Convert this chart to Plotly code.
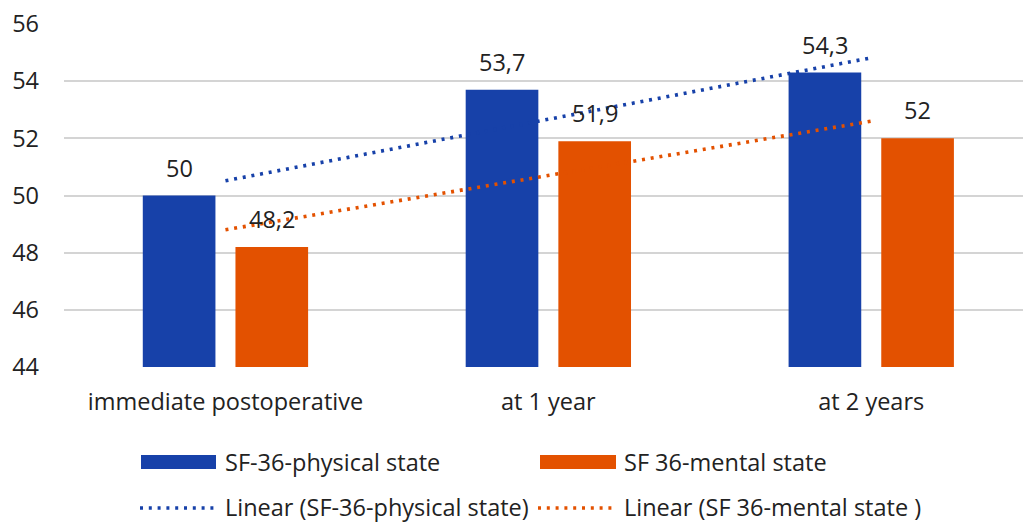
import numpy as np
import plotly.graph_objects as go

# Chart data
categories = ["immediate postoperative", "at 1 year", "at 2 years"]
physical = [50, 53.7, 54.3]
mental = [48.2, 51.9, 52]
series_names = ["SF-36-physical state", "SF 36-mental state"]
trend_names = ["Linear (SF-36-physical state)", "Linear (SF 36-mental state )"]

BLUE = "#1741A9"
ORANGE = "#E35100"
FONT = "Open Sans"
FS = 23.5
TEXT = "#222222"

W, H = 1023, 524
L, R, T, B = 64, 0, 24, 157
PW, PH = W - L - R, H - T - B

xpos = np.arange(len(categories))
BAR_W = 0.225
OFFSETS = [-0.256, 0.031]
DOTS = "3px,5.8px"


def fmt(v):
    return f"{v:g}".replace(".", ",")


def px_x(px):
    return (px - L) / PW


def px_y(py):
    return (H - B - py) / PH


fig = go.Figure()

# Linear trendlines (least-squares fit over category index), drawn under bars
for vals, color, name in [(physical, BLUE, trend_names[0]), (mental, ORANGE, trend_names[1])]:
    slope, icpt = np.polyfit(xpos, vals, 1)
    fig.add_trace(go.Scatter(
        x=xpos, y=slope * xpos + icpt, mode="lines", name=name,
        line=dict(color=color, width=3.6, dash=DOTS),
        showlegend=False, hoverinfo="skip",
    ))

for vals, color, name, off in [(physical, BLUE, series_names[0], OFFSETS[0]),
                               (mental, ORANGE, series_names[1], OFFSETS[1])]:
    fig.add_trace(go.Bar(
        x=xpos, y=vals, name=name, marker=dict(color=color, line=dict(width=0)),
        width=BAR_W, offset=off, showlegend=False,
    ))
    for xi, v in zip(xpos, vals):
        fig.add_annotation(
            x=xi + off + BAR_W / 2, y=v, xref="x", yref="y", text=fmt(v),
            showarrow=False, yanchor="middle", yshift=28,
            font=dict(family=FONT, size=FS, color=TEXT),
        )

# Legend drawn as shapes + labels
legend_rows = [
    [(141, 216, BLUE, "bar", series_names[0], 224), (540, 616, ORANGE, "bar", series_names[1], 623)],
    [(140, 216, BLUE, "dot", trend_names[0], 224), (538, 616, ORANGE, "dot", trend_names[1], 623)],
]
row_y = [462, 507]
for ry, row in zip(row_y, legend_rows):
    for x0, x1, color, kind, label, tx in row:
        if kind == "bar":
            fig.add_shape(type="rect", xref="paper", yref="paper",
                          x0=px_x(x0), x1=px_x(x1), y0=px_y(ry - 7), y1=px_y(ry + 7),
                          fillcolor=color, line=dict(width=0))
        else:
            fig.add_shape(type="line", xref="paper", yref="paper",
                          x0=px_x(x0), x1=px_x(x1), y0=px_y(ry + 1), y1=px_y(ry + 1),
                          line=dict(color=color, width=3.6, dash=DOTS))
        fig.add_annotation(x=px_x(tx), y=px_y(ry), xref="paper", yref="paper",
                           text=label, showarrow=False, xanchor="left", yanchor="middle",
                           borderpad=0,
                           font=dict(family=FONT, size=FS, color=TEXT))

fig.update_layout(
    width=W, height=H,
    margin=dict(l=L, r=R, t=T, b=B, pad=0),
    paper_bgcolor="white", plot_bgcolor="white",
    font=dict(family=FONT, size=FS, color=TEXT),
    separators=", ",
    showlegend=False,
    xaxis=dict(
        range=[-0.5, (W - R - L) / 322.9 - 0.5],
        tickmode="array", tickvals=xpos, ticktext=categories,
        showgrid=False, zeroline=False, showline=False,
        ticks="", ticklabelstandoff=18,
        tickfont=dict(family=FONT, size=FS, color=TEXT),
        fixedrange=True,
    ),
    yaxis=dict(
        range=[44, 56], dtick=2, tick0=44,
        showgrid=True, gridcolor="#d4d4d4", gridwidth=1.5,
        zeroline=False, showline=False, ticks="",
        ticklabelstandoff=24,
        tickfont=dict(family=FONT, size=FS, color=TEXT),
        fixedrange=True,
    ),
)

fig.write_html("out.html", config={"displayModeBar": False})
